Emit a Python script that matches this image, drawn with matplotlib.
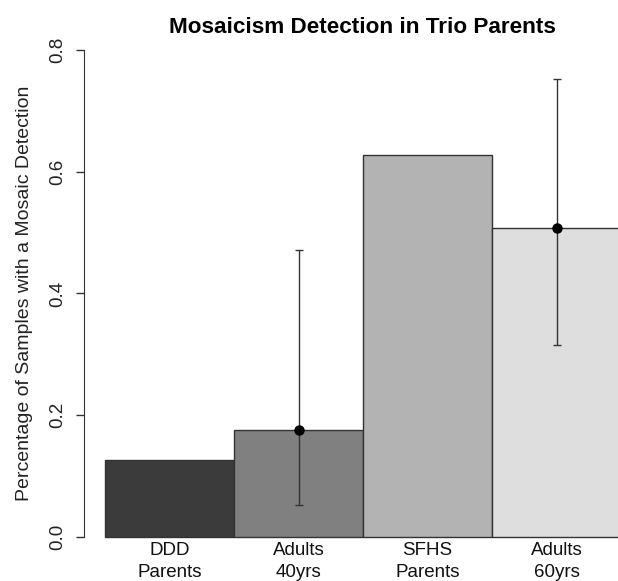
import matplotlib
matplotlib.use("Agg")
import matplotlib.pyplot as plt
import matplotlib.transforms as mtrans

plt.rcParams['font.family'] = ['Liberation Sans', 'DejaVu Sans']

categories = ["DDD\nParents", "Adults\n40yrs", "SFHS\nParents", "Adults\n60yrs"]
values = [0.127, 0.175, 0.628, 0.508]
err_low = [None, 0.052, None, 0.315]
err_high = [None, 0.472, None, 0.753]
colors = ["#3b3b3b", "#808080", "#b3b3b3", "#dedede"]
yticks = [0.0, 0.2, 0.4, 0.6, 0.8]

W, H = 618, 581
fig = plt.figure(figsize=(W / 100, H / 100), dpi=100)
left_px = 84.4
ax = fig.add_axes([left_px / W, (H - 556.5) / H, 1 - left_px / W, (556.5 - 30.5) / H])

x = list(range(len(categories)))
ax.bar(x, values, width=1.0, align='edge', color=colors, edgecolor="#333333", linewidth=1.0)

for i in range(len(categories)):
    if err_low[i] is not None:
        cx = i + 0.5
        ax.errorbar([cx], [values[i]], yerr=[[values[i] - err_low[i]], [err_high[i] - values[i]]],
                    fmt='o', color='black', ecolor='#333333', elinewidth=1.0, capsize=3,
                    capthick=1.0, markersize=6.5)

bar_px = 129.0
ax.set_xlim(-0.16, (W - left_px) / bar_px - 0.16)
ax.set_ylim(-0.032, 0.832)

for s in ['top', 'right', 'bottom']:
    ax.spines[s].set_visible(False)
ax.spines['left'].set_bounds(0, 0.8)
ax.spines['left'].set_color('#333333')

ax.set_yticks(yticks)
ax.set_yticklabels([f"{t:.1f}" for t in yticks], rotation=90, va='center', fontsize=13.5, color='#222222')
ax.tick_params(axis='y', length=6, width=1, color='#333333', pad=7)
ax.set_xticks([])

# category labels: x in data units, y in figure coordinates
blend = mtrans.blended_transform_factory(ax.transData, fig.transFigure)
for i, lab in enumerate(categories):
    for j, ln in enumerate(lab.split("\n")):
        ybase = 555 + 22 * j
        ax.text(i + 0.5, (H - ybase) / H, ln, transform=blend, ha='center', va='baseline',
                fontsize=13.5, color='#111111', clip_on=False)

fig.text(29.5 / W, 1 - 293 / H, "Percentage of Samples with a Mosaic Detection", rotation=90,
         rotation_mode='anchor', ha='center', va='baseline', fontsize=14, color='#222222')
fig.text(362.5 / W, 1 - 33 / H, "Mosaicism Detection in Trio Parents", ha='center', va='baseline',
         fontsize=16.2, fontweight='bold')

fig.savefig("out.png", dpi=100)
